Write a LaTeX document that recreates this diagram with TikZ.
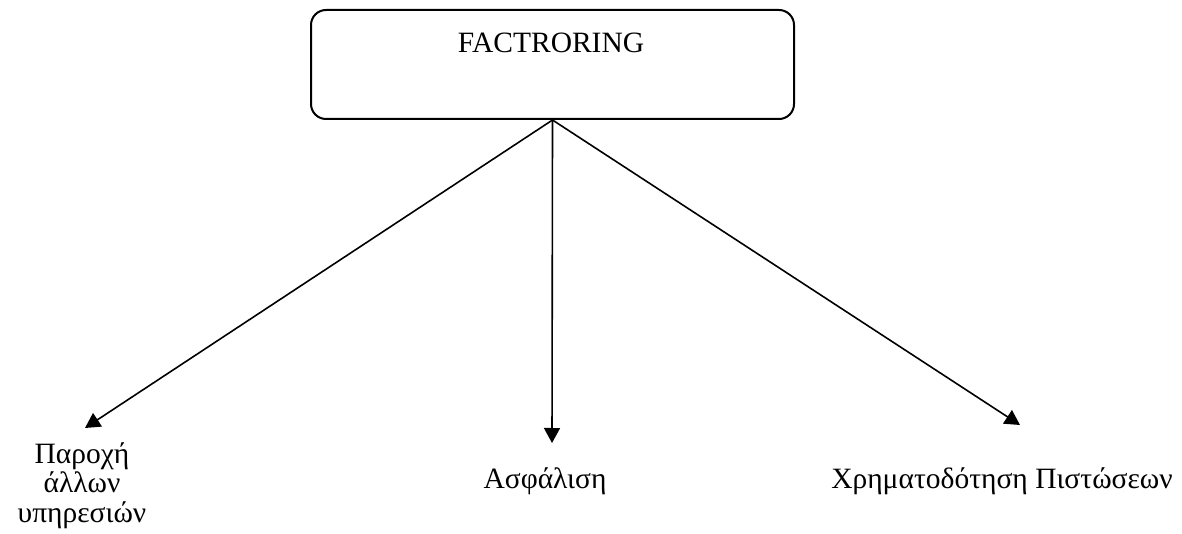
\documentclass[tikz,border=0pt]{standalone}
\usepackage{fontspec}
\setmainfont{Liberation Serif}
\usetikzlibrary{arrows.meta}
\begin{document}
\begin{tikzpicture}[x=1pt,y=-1pt,
  box/.style={draw,line width=2pt,rounded corners=15pt,minimum width=483pt,minimum height=109pt,inner sep=0pt},
  lbl/.style={font=\fontsize{29.5}{29.5}\selectfont,inner sep=0pt,align=center},
  conn/.style={line width=1.6pt,-{Triangle[length=15pt,width=16pt]}}]
\useasboundingbox (0,0) rectangle (1182,534);
\node[box] (top) at (552.5,64.5) {};
\node[lbl,anchor=base] (title) at (551,53) {FACTRORING};
\node[lbl,anchor=base] (left) at (82,522) {Παροχή\\άλλων\\υπηρεσιών};
\node[lbl,anchor=base] (mid) at (545,488) {Ασφάλιση};
\node[lbl,anchor=base] (right) at (1002,488) {Χρηματοδότηση Πιστώσεων};
\coordinate (tl) at (85,428);
\coordinate (tm) at (552,443);
\coordinate (tr) at (1020,425);
\draw[conn] (top.south) -- (tl);
\draw[conn] (top.south) -- (tm);
\draw[conn] (top.south) -- (tr);
\end{tikzpicture}
\end{document}
